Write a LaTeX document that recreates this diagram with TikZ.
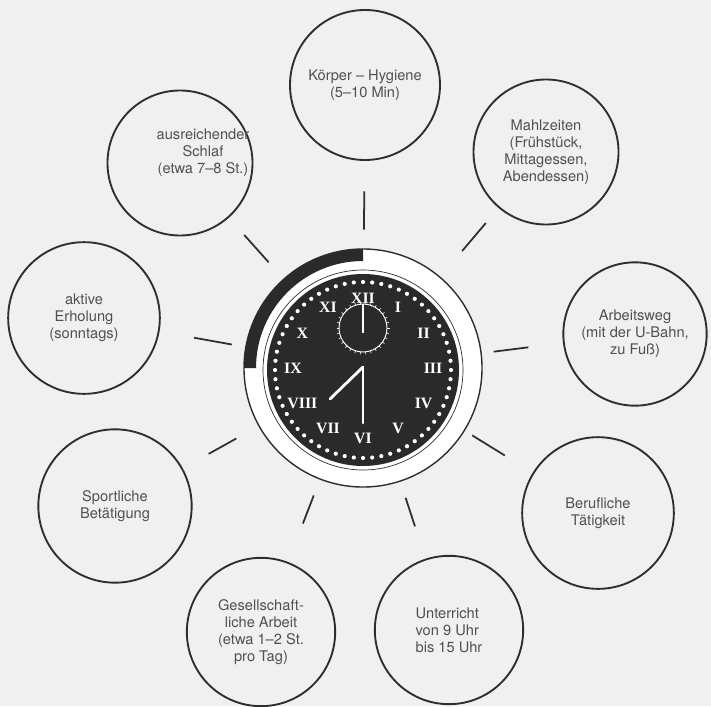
\documentclass[tikz,border=0pt]{standalone}
\usepackage{fontspec}
\setsansfont{TeX Gyre Heros}
\newfontfamily\clockfont{Liberation Serif}
\usepackage{xcolor}
\definecolor{ink}{HTML}{2E2E2E}
\definecolor{print}{HTML}{505050}
\definecolor{paper}{HTML}{F0F0F0}
\definecolor{dial}{HTML}{2A2A2A}
\usetikzlibrary{calc}

\begin{document}
\begin{tikzpicture}[
    x=0.03cm, y=-0.03cm,
    font=\sffamily\fontsize{12.5pt}{14.5pt}\selectfont,
    text=print,
    bubble/.style={draw=ink, circle, line width=1.6pt, minimum size=#1, inner sep=0pt, align=center},
    bubble/.default=4.4cm,
    spoke/.style={draw=ink, line width=1.5pt},
    numeral/.style={text=white, font=\clockfont\bfseries\fontsize{13.5pt}{14pt}\selectfont, inner sep=0pt}
]

% ── Page ──
\fill[paper] (0,0) rectangle (711,706);
\useasboundingbox (0,0) rectangle (711,706);

% ── Activity Circles ──
\node[bubble=4.5cm] (hyg) at (365,85) {Körper – Hygiene\\(5–10 Min)};
\node[bubble=4.35cm,
      label={[shift={(0.69cm,0.3cm)}, align=center]center:ausreichender\\Schlaf\\(etwa 7–8 St.)}]
      (slp) at (180,163) {};
\node[bubble=4.35cm] (meal) at (546,152) {Mahlzeiten\\(Frühstück,\\Mittagessen,\\Abendessen)};
\node[bubble=4.55cm] (rest) at (84,318) {aktive\\Erholung\\(sonntags)};
\node[bubble=4.3cm] (way) at (635,334) {Arbeitsweg\\(mit der U-Bahn,\\zu Fuß)};
\node[bubble=4.6cm] (sport) at (115,506) {Sportliche\\Betätigung};
\node[bubble=4.55cm] (job) at (598,513) {Berufliche\\Tätigkeit};
\node[bubble=4.45cm] (soc) at (261,632) {Gesellschaft-\\liche Arbeit\\(etwa 1–2 St.\\pro Tag)};
\node[bubble=4.45cm, align=left] (les) at (449,630) {Unterricht\\von 9 Uhr\\bis 15 Uhr};

% ── Clock ──
\node[circle, draw=ink, fill=white, line width=1.2pt, minimum size=7.14cm, inner sep=0pt] (clk) at (363,368) {};

\begin{scope}[shift={(clk.center)}, x=0.03cm, y=0.03cm]
  \fill[dial] (90:119) arc[start angle=90, end angle=180, radius=119]
        -- (180:107) arc[start angle=180, end angle=90, radius=107] -- cycle;
  \draw[ink, line width=0.6pt] (0,-2) circle[radius=100];
  \fill[dial] (0,-2) circle[radius=96];
  \foreach \a in {0,6,...,354}
    \fill[white] ($(0,-2)+(\a:88)$) circle[radius=2.1];
  \foreach \n [count=\i] in {I,II,III,IV,V,VI,VII,VIII,IX,X,XI,XII}
    \node[numeral] (num\i) at ({90-30*\i}:70) {\n};
  % small dial
  \draw[white, line width=0.8pt] (0,40) circle[radius=24];
  \foreach \a in {0,12,...,348}
    \draw[white, line width=0.5pt] ($(0,40)+(\a:24)$) -- ($(0,40)+(\a:26.5)$);
  \draw[white, line width=1.3pt] (0,35) -- (0,64);
  % hands
  \draw[white, line width=2.4pt, line cap=round] (0,1) -- (0,-55);
  \draw[white, line width=2.4pt, line cap=round] (0,1) -- (-33,-31);
\end{scope}

% ── Spokes ──
\foreach \s/\a/\b in {hyg/4.15/5.3, slp/4.25/5.35, meal/4.6/5.7, rest/4.0/5.15, way/3.95/5.0,
                      sport/4.35/5.3, job/3.85/5.0, soc/4.1/5.0, les/4.1/5.0}
  \draw[spoke] ($(clk.center)!\a cm!(\s)$) -- ($(clk.center)!\b cm!(\s)$);

\end{tikzpicture}
\end{document}
